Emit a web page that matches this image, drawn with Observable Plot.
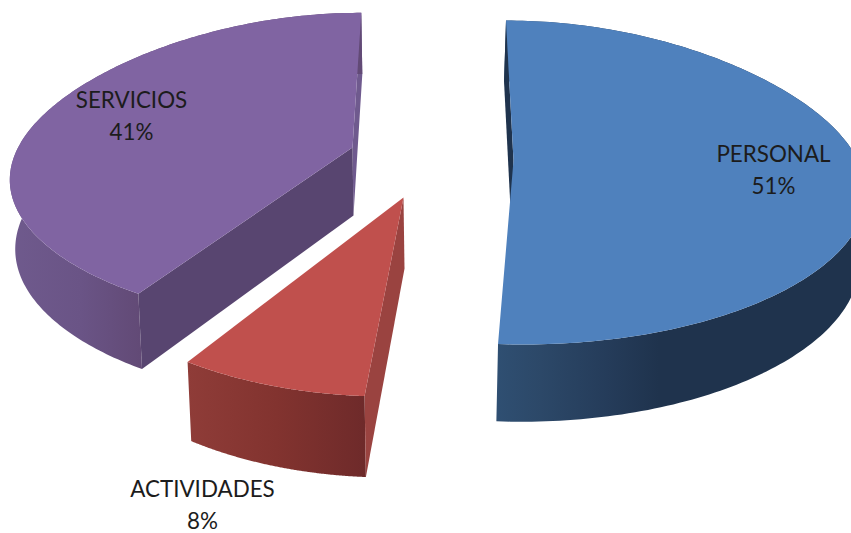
<!DOCTYPE html>
<html>
<head>
<meta charset="utf-8">
<script src="https://cdn.jsdelivr.net/npm/d3@7"></script>
<script src="https://cdn.jsdelivr.net/npm/@observablehq/plot@0.6"></script>
<style>html,body{margin:0;padding:0;background:#fff;overflow:hidden}</style>
</head>
<body>
<div id="chart"></div>
<script>
// Data (in pie order, clockwise from the top)
const categories = ["PERSONAL", "ACTIVIDADES", "SERVICIOS"];
const shares = [51, 8, 41];

// Appearance and position of each exploded slice
const topColors = ["#4F81BD", "#C0504D", "#8064A2"];
const startWallColors = ["#1F334D", "#9A4340", "#584570"];
const endWallColors = [null, null, "#6F5A8E"];
const wallStops = [
  [[0, "#2F4F72"], [0.12, "#2C4868"], [0.3, "#253C5A"], [0.44, "#1F334D"], [1, "#1F334D"]],
  [[0, "#8F3C38"], [0.5, "#82332F"], [1, "#6E2A2A"]],
  [[0, "#6F5A8D"], [0.2, "#6A5486"], [0.37, "#624A76"], [1, "#624A76"]]
];
const apexX = [513, 403, 352];
const apexY = [160, 197, 147];
const baseX = [511, 404, 353];
const baseY = [228, 268, 215];
const radiusX = [348, 337, 338];
const radiusY = [159, 172, 153];
const skewX = [-8.5, 12.5, 10];
const labelX = [773, 202, 131];
const labelY = [167.5, 502, 113.5];
const perspective = 0.136;
const sideDrop = 16;
const baseScaleX = 0.987;
const baseScaleY = 1.05;
const steps = 180;

function rimPoint(angle, i, base) {
  const s = Math.sin(angle), c = Math.cos(angle), w = 1 + perspective * c;
  const ax = base ? baseX[i] : apexX[i], ay = base ? baseY[i] : apexY[i];
  const rx = radiusX[i] * (base ? baseScaleX : 1), ry = radiusY[i] * (base ? baseScaleY : 1);
  return {x: ax + (rx * s + skewX[i] * c) / w, y: ay - ry * c / w + sideDrop * s * s * (1 + c) / 2};
}
function arc(a0, a1, i, base) {
  return d3.range(steps + 1).map((k) => rimPoint(a0 + (a1 - a0) * k / steps, i, base));
}

const total = d3.sum(shares);
const marks = [];
const defs = () => {
  const d = d3.create("svg:defs");
  wallStops.forEach((stops, i) => {
    const g = d.append("linearGradient").attr("id", "wall" + i)
      .attr("x1", 0).attr("x2", 1).attr("y1", 0).attr("y2", 0);
    stops.forEach(([o, c]) => g.append("stop").attr("offset", o).attr("stop-color", c));
  });
  return d.node();
};
marks.push(defs);

const poly = (pts, fill) => Plot.line(pts, {x: "x", y: "y", fill, stroke: "none", curve: "linear", clip: true});

let cum = 0;
shares.forEach((v, i) => {
  const a0 = 2 * Math.PI * cum / total, a1 = 2 * Math.PI * (cum + v) / total;
  cum += v;
  const apex = {x: apexX[i], y: apexY[i]}, base = {x: baseX[i], y: baseY[i]};
  const topStart = rimPoint(a0, i, false), baseStart = rimPoint(a0, i, true);
  const topEnd = rimPoint(a1, i, false), baseEnd = rimPoint(a1, i, true);
  // wall along the edge where the slice ends (behind the others)
  if (endWallColors[i]) marks.push(poly([apex, base, baseEnd, topEnd, apex], endWallColors[i]));
  // outer rim wall
  const rim = arc(a0, a1, i, false), rimBase = arc(a0, a1, i, true).reverse();
  marks.push(poly([...rim, ...rimBase, rim[0]], `url(#wall${i})`));
  // wall along the edge where the slice starts
  marks.push(poly([topStart, apex, base, baseStart, topStart], startWallColors[i]));
  // top face
  marks.push(poly([apex, ...rim, apex], topColors[i]));
});

const labels = categories.map((c, i) => ({text: `${c}\n${shares[i]}%`, x: labelX[i], y: labelY[i]}));
marks.push(Plot.text(labels, {
  x: "x", y: "y", text: "text", fontSize: 22.4, lineHeight: 1.43, fill: "#1c1c1c",
  fontFamily: "Lato", textAnchor: "middle"
}));

document.getElementById("chart").append(Plot.plot({
  width: 851, height: 533,
  margin: 0,
  style: {background: "#fff"},
  x: {domain: [0, 851], axis: null},
  y: {domain: [533, 0], axis: null},
  marks
}));
</script>
</body>
</html>
